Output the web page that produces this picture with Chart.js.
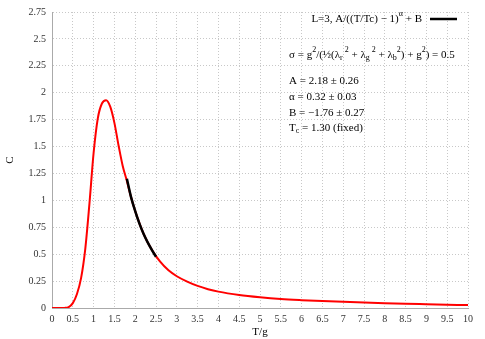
<!DOCTYPE html>
<html>
<head>
<meta charset="utf-8">
<script src="https://cdn.jsdelivr.net/npm/chart.js@4"></script>
<style>
  html, body { margin: 0; padding: 0; background: #fff; }
</style>
</head>
<body>
<canvas id="specificHeat" width="485" height="339"></canvas>
<script>
// ------ data ------//
var tData = [0, 0.1, 0.2, 0.3, 0.4, 0.5, 0.6, 0.7, 0.8, 0.9, 1.0, 1.1, 1.2, 1.3, 1.4, 1.5, 1.6, 1.7, 1.8,
	1.9, 2.0, 2.2, 2.4, 2.6, 2.8, 3.0, 3.25, 3.5, 3.75, 4.0, 4.5, 5.0, 5.5, 6.0, 6.5, 7.0, 7.5, 8.0, 8.5, 9.0, 9.5, 10]
var cData = [0, 0, 0, 0.001, 0.008, 0.045, 0.13, 0.28, 0.55, 0.97, 1.44, 1.76, 1.9, 1.93, 1.87, 1.72, 1.51, 1.32, 1.18,
	1.03, 0.9, 0.69, 0.54, 0.43, 0.35, 0.295, 0.245, 0.205, 0.175, 0.152, 0.121, 0.1, 0.084, 0.073, 0.064, 0.057, 0.05, 0.044, 0.039, 0.035, 0.031, 0.027]

var fitT = [1.8, 1.9, 2.0, 2.1, 2.2, 2.3, 2.4, 2.5]
var fitC = [1.2, 1.03, 0.9, 0.786, 0.69, 0.61, 0.54, 0.476]

var xTicks = [0, 10, 0.5]     // min, max, step
var yTicks = [0, 2.75, 0.25]

var fitLabel = [['L=3, A/((T/Tc) \u2212 1)', 0], ['\u03b1', -1], [' + B', 0]]
var notes = [
	[['\u03c3 = g', 0], ['2', -1], ['/(\u00bd(\u03bb', 0], ['r', 1], [' 2', -1], [' + \u03bb', 0], ['g', 1], [' 2', -1],
		[' + \u03bb', 0], ['b', 1], ['2', -1], [') + g', 0], ['2', -1], [') = 0.5', 0]],
	[['A = 2.18 \u00b1 0.26', 0]],
	[['\u03b1 = 0.32 \u00b1 0.03', 0]],
	[['B = \u22121.76 \u00b1 0.27', 0]],
	[['T', 0], ['c', 1], [' = 1.30 (fixed)', 0]]
]

var serif = "'Liberation Serif', 'DejaVu Serif', serif"

function points(xs, ys) {
	var out = []
	for (var i = 0; i < xs.length; i++) out.push({x: xs[i], y: ys[i]})
	return out
}

function plainTick(v) {
	return String(Math.round(v * 100) / 100)
}

// draws a line of text runs, 0 = normal, -1 = superscript, 1 = subscript
function drawRuns(c, runs, x, y) {
	for (var i = 0; i < runs.length; i++) {
		var t = runs[i][0], s = runs[i][1]
		c.font = (s === 0 ? 11 : 8) + 'px ' + serif
		var dy = s === -1 ? -5 : (s === 1 ? 3 : 0)
		c.fillText(t, x, y + dy)
		x += c.measureText(t).width
	}
	return x
}

function runsWidth(c, runs) {
	var w = 0
	for (var i = 0; i < runs.length; i++) {
		c.font = (runs[i][1] === 0 ? 11 : 8) + 'px ' + serif
		w += c.measureText(runs[i][0]).width
	}
	return w
}

var notesPlugin = {
	id: 'notes',
	afterDraw: function(chart) {
		var c = chart.ctx
		c.save()
		c.fillStyle = '#000'
		c.textBaseline = 'middle'
		// key
		var w = runsWidth(c, fitLabel)
		drawRuns(c, fitLabel, 422 - w, 19)
		c.strokeStyle = '#000'
		c.lineWidth = 2.5
		c.beginPath()
		c.moveTo(430, 19)
		c.lineTo(457, 19)
		c.stroke()
		// fit results
		var ys = [55, 81, 97, 113, 128]
		for (var i = 0; i < notes.length; i++) drawRuns(c, notes[i], 289, ys[i])
		c.restore()
	}
}

var ctx = document.getElementById('specificHeat')
var myChart = new Chart(ctx, {
	type: 'line',
	data: {
		datasets: [{
			label: 'fit',
			data: points(fitT, fitC),
			borderColor: '#000',
			borderWidth: 2.5,
			pointRadius: 0,
			cubicInterpolationMode: 'monotone',
			order: 0
		}, {
			label: 'C',
			data: points(tData, cData),
			borderColor: '#ff0000',
			borderWidth: 2,
			pointRadius: 0,
			cubicInterpolationMode: 'monotone',
			order: 1
		}]
	},
	options: {
		responsive: false,
		animation: false,
		layout: {padding: {left: 0, right: 17, top: 11, bottom: 0}},
		plugins: {legend: {display: false}, tooltip: {enabled: false}},
		scales: {
			x: {
				type: 'linear',
				min: xTicks[0],
				max: xTicks[1],
				ticks: {stepSize: xTicks[2], callback: plainTick, color: '#333', font: {family: serif, size: 10}, padding: 5, maxRotation: 0},
				grid: {color: '#c8c8c8', drawTicks: false},
				border: {dash: [1, 2], color: '#aaa'},
				title: {display: true, text: 'T/g', color: '#000', font: {family: serif, size: 11}, padding: {top: 2, bottom: 0}},
				afterFit: function(s) { s.height = 31 }
			},
			y: {
				min: yTicks[0],
				max: yTicks[1],
				ticks: {stepSize: yTicks[2], callback: plainTick, color: '#333', font: {family: serif, size: 10}, padding: 6},
				grid: {color: '#c8c8c8', drawTicks: false},
				border: {dash: [1, 2], color: '#aaa'},
				title: {display: true, text: 'C', color: '#000', font: {family: serif, size: 11}},
				afterFit: function(s) { s.width = 52 }
			}
		}
	},
	plugins: [notesPlugin]
})
</script>
</body>
</html>
